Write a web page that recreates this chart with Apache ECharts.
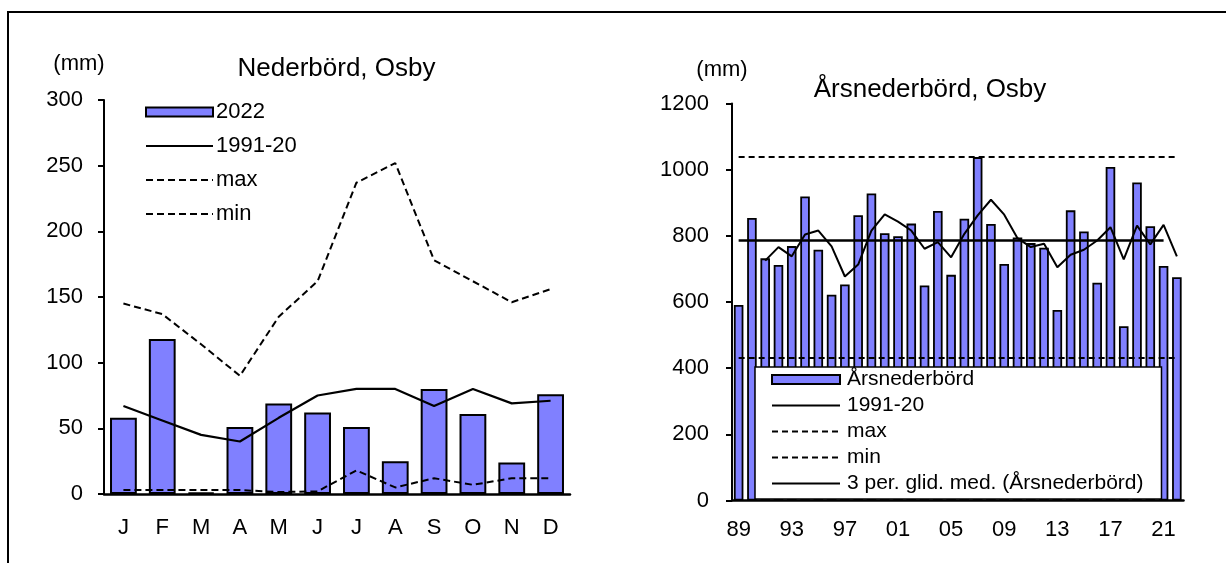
<!DOCTYPE html>
<html><head><meta charset="utf-8">
<script src="https://cdn.jsdelivr.net/npm/echarts@6/dist/echarts.min.js"></script>
<style>html,body{margin:0;padding:0;background:#fff}#c{width:1226px;height:563px}</style>
</head><body><div id="c"></div>
<script>
// ---- Data: monthly chart ----
const months = ['J','F','M','A','M','J','J','A','S','O','N','D'];
const precip2022 = [58,118,1,51,69,62,51,25,80,61,24,76];
const normal9120 = [67,56,45,40,58,75,80,80,67,80,69,71];
const maxMonthly = [145,137,114,90,135,162,237,252,178,162,146,156];
const minMonthly = [3,3,3,3,1.5,2,18,5,12,7,12,12];
// ---- Data: annual chart ----
const years = ['89','90','91','92','93','94','95','96','97','98','99','00','01','02','03','04','05','06','07','08','09','10','11','12','13','14','15','16','17','18','19','20','21','22'];
const annual = [591,854,732,712,769,919,758,622,653,862,928,808,799,837,650,875,682,852,1038,836,715,795,778,764,576,877,813,658,1008,527,961,829,709,675];
const movingAvg3 = [null,null,725,766,738,804,816,768,677,713,816,865,843,816,761,781,735,806,862,909,864,793,766,776,705,743,758,786,826,729,831,774,833,738];
const annualNormal = 788;
const annualMax = 1038;
const annualMin = 432;
const leftTitle = 'Nederbörd, Osby';
const rightTitle = 'Årsnederbörd, Osby';
const unitLabel = '(mm)';

const FONT = '"Liberation Sans", Arial, sans-serif';
const BAR = '#8080FF';
const chart = echarts.init(document.getElementById('c'), null, {renderer:'canvas'});

const axisText = {color:'#000', fontSize:22, fontFamily:FONT};
const noSym = {itemStyle:{opacity:0}};

chart.setOption({
  animation:false,
  backgroundColor:'#fff',
  textStyle:{fontFamily:FONT, color:'#000'},
  graphic:[
    {type:'rect', shape:{x:8,y:12,width:1260,height:620}, style:{fill:'none', stroke:'#000', lineWidth:2}, z:0},
    {type:'text', x:79, y:64, style:{text:unitLabel, font:'22px '+FONT, fill:'#000', align:'center', verticalAlign:'middle'}},
    {type:'text', x:336.5, y:68.5, style:{text:leftTitle, font:'26px '+FONT, fill:'#000', align:'center', verticalAlign:'middle'}},
    {type:'text', x:722, y:70, style:{text:unitLabel, font:'22px '+FONT, fill:'#000', align:'center', verticalAlign:'middle'}},
    {type:'text', x:930, y:90, style:{text:rightTitle, font:'26px '+FONT, fill:'#000', align:'center', verticalAlign:'middle'}}
  ],
  legend:[
    {
      orient:'vertical', left:145, top:101, padding:0, itemGap:12,
      itemWidth:67, itemHeight:9,
      textStyle:{fontSize:22, lineHeight:22, color:'#000', fontFamily:FONT, padding:[0,0,0,-2]},
      data:[{name:'2022', icon:'rect'}, Object.assign({name:'1991-20'}, noSym), Object.assign({name:'max'}, noSym), Object.assign({name:'min'}, noSym)]
    },
    {
      orient:'vertical', left:755, top:367, padding:[2,18,5,16], itemGap:5,
      itemWidth:68, itemHeight:9,
      backgroundColor:'#fff', borderColor:'#000', borderWidth:1.5,
      textStyle:{fontSize:21, lineHeight:21, color:'#000', fontFamily:FONT, padding:[0,0,0,2]},
      data:[{name:'Årsnederbörd', icon:'rect'}, Object.assign({name:'Årsnormal'}, noSym), Object.assign({name:'Årsmax'}, noSym), Object.assign({name:'Årsmin'}, noSym), Object.assign({name:'3 per. glid. med. (Årsnederbörd)'}, noSym)],
      formatter: n => ({'Årsnormal':'1991-20','Årsmax':'max','Årsmin':'min'}[n] || n)
    }
  ],
  grid:[
    {left:104, top:100, width:466, height:394},
    {left:732, top:103.5, width:451.5, height:397}
  ],
  xAxis:[
    {type:'category', gridIndex:0, data:months, boundaryGap:true,
     axisLine:{lineStyle:{color:'#000', width:2.5}}, axisTick:{show:false},
     axisLabel:Object.assign({margin:23, interval:0}, axisText)},
    {type:'category', gridIndex:1, data:years, boundaryGap:true,
     axisLine:{lineStyle:{color:'#000', width:2.5}}, axisTick:{show:false},
     axisLabel:Object.assign({margin:18, interval:3}, axisText)}
  ],
  yAxis:[
    {type:'value', gridIndex:0, min:0, max:300, interval:50,
     axisLine:{show:true, lineStyle:{color:'#000', width:2}},
     axisTick:{show:true, length:6, lineStyle:{color:'#000', width:2}},
     splitLine:{show:false},
     axisLabel:Object.assign({margin:21, formatter: v => String(v)}, axisText)},
    {type:'value', gridIndex:1, min:0, max:1200, interval:200,
     axisLine:{show:true, lineStyle:{color:'#000', width:2}},
     axisTick:{show:true, length:6, lineStyle:{color:'#000', width:2}},
     splitLine:{show:false},
     axisLabel:Object.assign({margin:23, formatter: v => String(v)}, axisText)}
  ],
  series:[
    {name:'2022', type:'bar', xAxisIndex:0, yAxisIndex:0, data:precip2022, barCategoryGap:'31%',
     itemStyle:{color:BAR, borderColor:'#000', borderWidth:2}},
    {name:'1991-20', type:'line', xAxisIndex:0, yAxisIndex:0, data:normal9120, symbol:'none',
     lineStyle:{color:'#000', width:2.2, type:'solid'}, itemStyle:{color:'#000'}},
    {name:'max', type:'line', xAxisIndex:0, yAxisIndex:0, data:maxMonthly, symbol:'none',
     lineStyle:{color:'#000', width:2, type:[7,4]}, itemStyle:{color:'#000'}},
    {name:'min', type:'line', xAxisIndex:0, yAxisIndex:0, data:minMonthly, symbol:'none',
     lineStyle:{color:'#000', width:2, type:[7,4]}, itemStyle:{color:'#000'}},

    {name:'Årsnederbörd', type:'bar', xAxisIndex:1, yAxisIndex:1, data:annual, barCategoryGap:'28%',
     itemStyle:{color:BAR, borderColor:'#000', borderWidth:1.8}},
    {name:'Årsnormal', type:'line', xAxisIndex:1, yAxisIndex:1, data:[], symbol:'none',
     lineStyle:{color:'#000', width:2.5, type:'solid'}, itemStyle:{color:'#000'},
     markLine:{silent:true, symbol:'none', label:{show:false}, animation:false,
       lineStyle:{color:'#000', width:2.5, type:'solid'},
       data:[[{coord:['89', annualNormal]},{coord:['21', annualNormal]}]]}},
    {name:'Årsmax', type:'line', xAxisIndex:1, yAxisIndex:1, data:[], symbol:'none',
     lineStyle:{color:'#000', width:2, type:[6,4]}, itemStyle:{color:'#000'},
     markLine:{silent:true, symbol:'none', label:{show:false}, animation:false,
       lineStyle:{color:'#000', width:2, type:[6,4]},
       data:[[{coord:['89', annualMax]},{coord:['22', annualMax]}]]}},
    {name:'Årsmin', type:'line', xAxisIndex:1, yAxisIndex:1, data:[], symbol:'none',
     lineStyle:{color:'#000', width:2, type:[6,4]}, itemStyle:{color:'#000'},
     markLine:{silent:true, symbol:'none', label:{show:false}, animation:false,
       lineStyle:{color:'#000', width:2, type:[6,4]},
       data:[[{coord:['89', annualMin]},{coord:['22', annualMin]}]]}},
    {name:'3 per. glid. med. (Årsnederbörd)', type:'line', xAxisIndex:1, yAxisIndex:1, data:movingAvg3, symbol:'none',
     lineStyle:{color:'#000', width:2, type:'solid'}, itemStyle:{color:'#000'}}
  ]
});
</script>
</body></html>
